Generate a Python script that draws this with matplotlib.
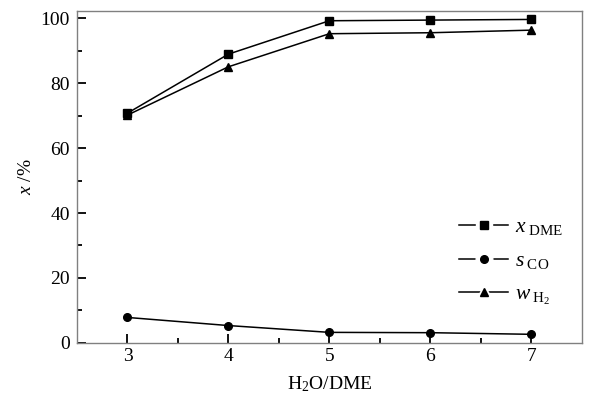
import numpy as np
import matplotlib.pyplot as plt
from matplotlib.ticker import MultipleLocator, FixedLocator
from matplotlib.lines import Line2D
from matplotlib.legend_handler import HandlerTuple

plt.rcParams['font.family'] = ['Liberation Serif', 'DejaVu Serif']
plt.rcParams['mathtext.fontset'] = 'custom'
plt.rcParams['mathtext.rm'] = 'Liberation Serif'
plt.rcParams['mathtext.it'] = 'Liberation Serif:italic'

ratio = [3, 4, 5, 6, 7]
x_dme = [70.8, 89.0, 99.3, 99.5, 99.7]
s_co = [7.8, 5.3, 3.2, 3.1, 2.6]
w_h2 = [70.2, 85.1, 95.3, 95.6, 96.4]
labels = [r'$x_{\ \rm DME}$', r'$s_{\ \rm CO}$', r'$w_{\ \rm H_2}$']
markers = ['s', 'o', '^']

fig = plt.figure(figsize=(5.89, 3.99), dpi=100)
ax = fig.add_axes([0.1307, 0.141, 0.857, 0.8314])

for ys, m in zip([x_dme, s_co, w_h2], markers):
    ax.plot(ratio, ys, 'k-', marker=m, ms=6 if m == '^' else 5.5, lw=1.1)

ax.set_xlim(2.5, 7.5)
ax.set_ylim(0, 102.3)
ax.xaxis.set_major_locator(MultipleLocator(1))
ax.xaxis.set_minor_locator(FixedLocator([3.5, 4.5, 5.5, 6.5]))
ax.yaxis.set_major_locator(MultipleLocator(20))
ax.yaxis.set_minor_locator(FixedLocator([10, 30, 50, 70, 90]))
ax.tick_params(which='both', direction='in', labelsize=14, width=1.3, color='k')
ax.tick_params(which='major', length=6.5)
ax.tick_params(which='minor', length=3.5)
ax.tick_params(axis='y', pad=5)
for sp in ax.spines.values():
    sp.set_color('#808080')
    sp.set_linewidth(1.0)

ax.set_xlabel(r'H$_2$O/DME', fontsize=14, labelpad=7)
ax.set_ylabel(r'$x$ /%', fontsize=14, labelpad=4)

# legend handles: line broken around the marker
handles = []
for m in markers:
    gap = Line2D([], [], color='k', lw=1.1, marker=m, ms=12, mfc='white', mec='white')
    dot = Line2D([], [], ls='none', marker=m, color='k', ms=6 if m == '^' else 5.5)
    handles.append((gap, dot))
ax.legend(handles, labels, handler_map={tuple: HandlerTuple(ndivide=1)},
          loc='center left', bbox_to_anchor=(0.718, 0.243), frameon=False,
          fontsize=15.5, handlelength=2.3, labelspacing=0.64, handletextpad=0.3)

fig.savefig('out.png', dpi=100)
